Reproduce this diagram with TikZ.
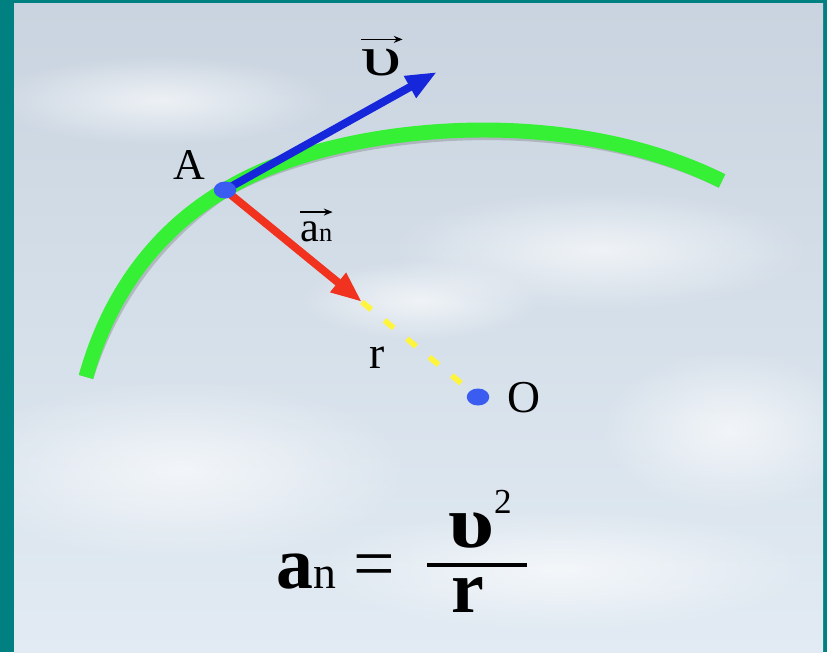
\documentclass[tikz,border=0pt]{standalone}
\usepackage{fontspec}
\setmainfont{Liberation Serif}
\usetikzlibrary{arrows.meta, calc, fadings, shapes.geometric}
\definecolor{marco}{HTML}{008080}
\definecolor{cielo}{HTML}{C9D4E0}
\definecolor{cieloclaro}{HTML}{E2EBF3}
\definecolor{verde}{HTML}{35F035}
\definecolor{azul}{HTML}{1626DA}
\definecolor{rojo}{HTML}{F0321E}
\definecolor{amarillo}{HTML}{FFF53C}
\definecolor{punto}{HTML}{3A5CF0}
\tikzfading[name=nube, inner color=transparent!35, outer color=transparent!100]
\tikzset{
  arco/.style={line width=8.5pt, draw=verde},
  sombra/.style={line width=8.5pt, draw=black!55, opacity=0.35, xshift=1.5pt, yshift=-2pt},
  vector/.style={line width=4.5pt, -{Triangle[length=0.62cm, width=0.46cm]}},
  radio/.style={draw=amarillo, line width=3.2pt, dash pattern=on 0.24cm off 0.34cm},
  puntob/.style={ellipse, fill=punto, minimum width=0.45cm, minimum height=0.34cm, inner sep=0pt},
  etiqueta/.style={font=\fontsize{25}{30}\selectfont, inner sep=0pt, anchor=base},
  flechita/.style={line width=0.8pt, -{Stealth[length=5pt, width=4pt]}},
  formula/.style={font=\fontsize{42}{50}\selectfont\bfseries, inner sep=0pt}
}
\begin{document}
\begin{tikzpicture}[x=0.02cm, y=-0.02cm]
  % marco y fondo
  \fill[marco] (0,0) rectangle (827,652);
  \begin{scope}
    \clip (14,4) rectangle (823,652);
    \shade[top color=cielo, bottom color=cieloclaro] (14,4) rectangle (823,652);
    \foreach \cx/\cy/\rx/\ry in {160/100/170/45, 600/250/210/60, 180/470/230/90, 560/570/250/60, 730/430/130/80, 420/300/120/40}
      \fill[white, path fading=nube] (\cx,\cy) ellipse [x radius=\rx*0.02cm, y radius=\ry*0.02cm];
  \end{scope}
  % trayectoria
  \coordinate (ini) at (86,377);
  \coordinate (A) at (225,190);
  \coordinate (fin) at (722,181);
  \draw[sombra] (ini) .. controls (110,290) and (160,228) .. (A) .. controls (330,125) and (560,100) .. (fin);
  \draw[arco] (ini) .. controls (110,290) and (160,228) .. (A) .. controls (330,125) and (560,100) .. (fin);
  % puntos y vectores
  \coordinate (O) at (478,397);
  \coordinate (vtip) at (437,72);
  \coordinate (atip) at (362,302);
  \draw[radio] (atip) -- (O);
  \draw[vector, azul] (A) -- (vtip);
  \draw[vector, rojo] (A) -- (atip);
  \node (puntoA) [puntob] at (A) {};
  \node (puntoO) [puntob] at (O) {};
  % etiquetas
  \node (labA) [etiqueta] at (189,179) {A};
  \node (labO) [etiqueta, font=\fontsize{26}{30}\selectfont] at (524,412) {O};
  \node (labr) [etiqueta, font=\fontsize{26}{30}\selectfont] at (377,368) {r};
  \node (labv) [etiqueta, font=\fontsize{32}{40}\selectfont] at (382,75) {\scalebox{1.45}[1]{υ}};
  \node (laban) [etiqueta, anchor=base west, font=\fontsize{24}{28}\selectfont] at (300,241) {a{\fontsize{15}{18}\selectfont n}};
  \draw[flechita] ([yshift=5pt]labv.north west) -- ([yshift=5pt]labv.north east);
  \draw[flechita] ([yshift=5pt]laban.north west) -- ([yshift=5pt]laban.north east);
  % formula
  \node (fa) [formula, anchor=base west] at (276,588) {a{\fontsize{26}{30}\selectfont\mdseries n}};
  \node (figual) [formula, anchor=base west, font=\fontsize{42}{50}\selectfont] at (353,588) {=};
  \coordinate (barraI) at (427,565);
  \coordinate (barraD) at (527,565);
  \draw[line width=2.6pt] (barraI) -- (barraD);
  \node (fnum) [formula, anchor=base] at (480,547) {\scalebox{1.2}[1]{υ}\raisebox{0.45em}{\fontsize{20}{22}\selectfont\mdseries 2}};
  \node (fden) [formula, anchor=base] at (468,612) {r};
\end{tikzpicture}
\end{document}
